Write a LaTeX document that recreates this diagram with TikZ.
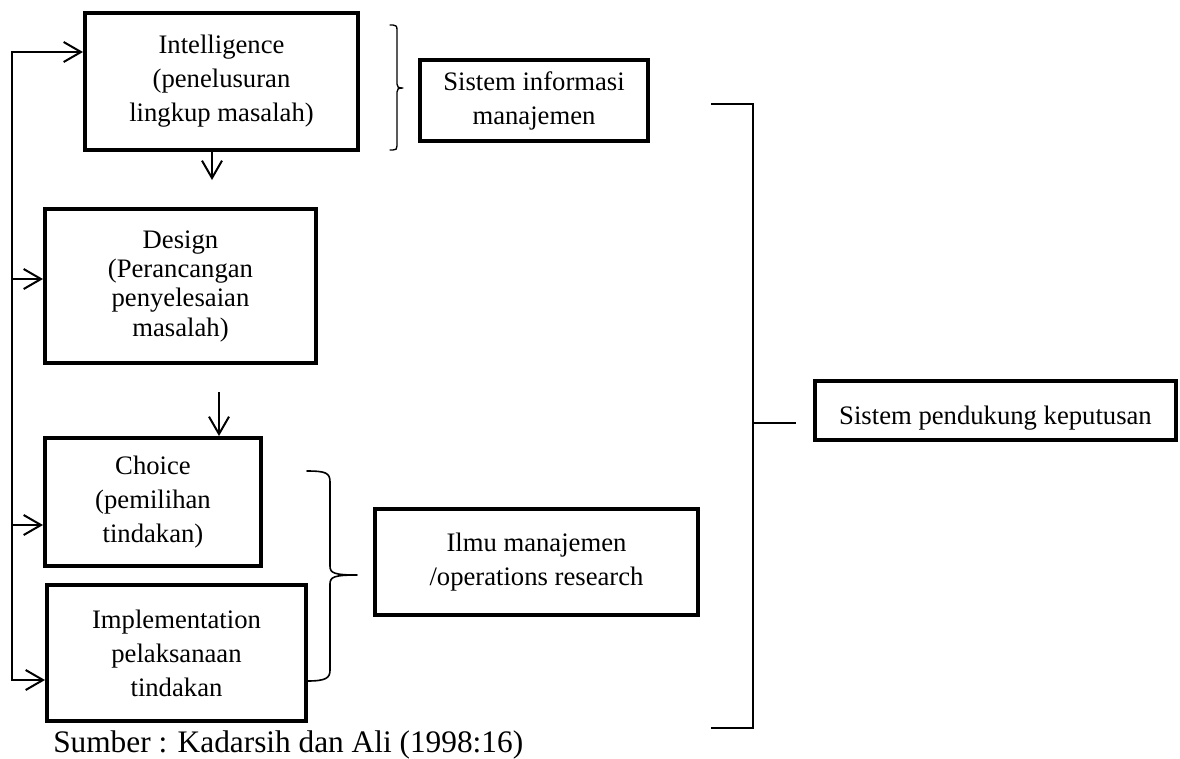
\documentclass[tikz,border=0pt]{standalone}
\usepackage{fontspec}
\setmainfont{Liberation Serif}
\usetikzlibrary{arrows.meta}
\begin{document}
\begin{tikzpicture}[x=0.75pt,y=-0.75pt,
  box/.style={draw, line width=3pt, align=center, inner sep=0pt,
              font=\fontsize{20}{25.5}\selectfont},
  boxsize/.style 2 args={minimum width=#1*0.75pt, minimum height=#2*0.75pt},
  feed/.style={line width=1.5pt, -{Straight Barb[length=13pt,width=15pt]}},
  rule/.style={line width=1.5pt},
  brace/.style={line width=1.2pt, line cap=round, line join=round}]
\useasboundingbox (0,0) rectangle (1180,758);

% phases of the decision process
\node[box, boxsize={273}{137}] (intel) at (221.5,81.5)
  {Intelligence\\(penelusuran\\lingkup masalah)};
\node[box, boxsize={271}{154}, font=\fontsize{20}{22}\selectfont] (design) at (180.5,286)
  {Design\\(Perancangan\\penyelesaian\\masalah)};
\node[box, boxsize={216}{128}] (choice) at (153,502)
  {Choice\\(pemilihan\\tindakan)};
\node[box, boxsize={259}{136}] (impl) at (176.5,653)
  {Implementation\\pelaksanaan\\tindakan};

% supporting systems
\node[box, boxsize={228}{81}] (sim) at (534,100.5)
  {Sistem informasi\\manajemen};
\node[box, boxsize={323}{106}] (ilmu) at (536.5,562)
  {Ilmu manajemen\\/operations research};
\node[box, boxsize={361}{59}, text height=25pt, text depth=4.3pt] (spk) at (995.5,410.5)
  {Sistem pendukung keputusan};

% feedback line on the left
\coordinate (f0) at (12,52);
\coordinate (f1) at (12,279);
\coordinate (f2) at (12,525);
\coordinate (f3) at (12,680);
\draw[feed] (f3) -- (f0) -- (f0 -| intel.west);
\draw[feed] (f1) -- (f1 -| design.west);
\draw[feed] (f2) -- (f2 -| choice.west);
\draw[feed] (f2) -- (f3) -- (f3 -| impl.west);

% downward flow
\coordinate (d0) at (212,180);
\draw[feed] (intel.south -| d0) -- (d0);
\coordinate (c0) at (219,392);
\draw[feed] (c0) -- (c0 |- choice.north);

% brace grouping intelligence
\draw[brace, line width=1pt] (390,25) -- (393,25)
  .. controls (396,25) and (397,26) .. (397,30) -- (397,84)
  .. controls (397,87) and (398,88) .. (403,88)
  .. controls (398,88) and (397,89) .. (397,92) -- (397,146)
  .. controls (397,149) and (396,150) .. (393,150) -- (390,150);

% brace grouping choice and implementation
\draw[brace] (307,471)
  .. controls (326,471) and (330,473) .. (330,482) -- (330,566)
  .. controls (330,573) and (334,575) .. (357,575)
  .. controls (334,575) and (330,577) .. (330,584) -- (330,670)
  .. controls (330,678) and (326,681) .. (307,681);

% large bracket on the right
\coordinate (b0) at (711,104);
\coordinate (b1) at (753,104);
\coordinate (b2) at (753,728);
\coordinate (b3) at (711,728);
\draw[rule] (b0) -- (b1) -- (b2) -- (b3);
\coordinate (t1) at (796,423);
\draw[rule] (t1 -| b1) -- (t1);

% source line
\node[anchor=base west, inner sep=0pt, font=\fontsize{23.5}{28}\selectfont] (src) at (53,752)
  {Sumber : Kadarsih dan Ali (1998:16)};
\end{tikzpicture}
\end{document}
